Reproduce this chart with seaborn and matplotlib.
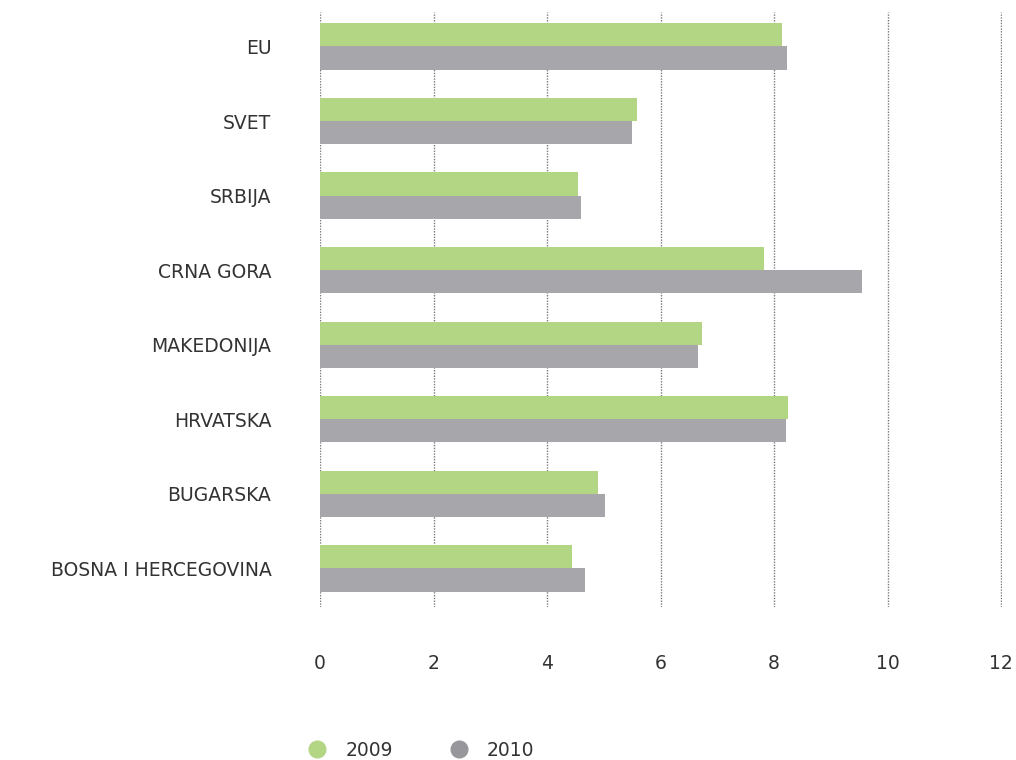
import pandas as pd
import matplotlib.pyplot as plt
import seaborn as sns
from matplotlib.lines import Line2D

# data
countries = ['EU', 'SVET', 'SRBIJA', 'CRNA GORA', 'MAKEDONIJA', 'HRVATSKA',
             'BUGARSKA', 'BOSNA I HERCEGOVINA']
values_2009 = [8.14, 5.59, 4.55, 7.82, 6.73, 8.25, 4.90, 4.44]
values_2010 = [8.23, 5.50, 4.60, 9.55, 6.66, 8.21, 5.02, 4.67]
years = ['2009', '2010']
colors = ['#b3d685', '#a7a7ab']

df = pd.DataFrame({
    'country': countries * 2,
    'value': values_2009 + values_2010,
    'year': [years[0]] * len(countries) + [years[1]] * len(countries),
})

sns.set_style('white')
plt.rcParams['font.family'] = ['DejaVu Sans']

fig = plt.figure(figsize=(10.16, 7.6), dpi=100)
ax = fig.add_axes([0.315, 0.201, 0.6715, 0.783])

sns.barplot(data=df, x='value', y='country', hue='year', orient='h',
            palette=colors, width=0.62, gap=0, saturation=1, linewidth=0,
            legend=False, ax=ax)

ax.set_xlim(0, 12.02)
ax.set_ylim(7.52, -0.46)
ax.set_xticks(range(0, 13, 2))
ax.set_axisbelow(True)
ax.grid(axis='x', linestyle=(0, (1, 1)), color='#7a7a7a', linewidth=1.0)
ax.grid(axis='y', visible=False)
for s in ax.spines.values():
    s.set_visible(False)
ax.set_xlabel('')
ax.set_ylabel('')
ax.tick_params(axis='x', length=0, pad=34, labelsize=13.5, labelcolor='#333333')
ax.tick_params(axis='y', length=0, pad=35, labelsize=13.5, labelcolor='#333333')

handles = [Line2D([], [], marker='o', linestyle='', markersize=12,
                  markerfacecolor=c, markeredgecolor=c) for c in ['#b3d685', '#98989c']]
fig.legend(handles, years, loc='center', bbox_to_anchor=(0.41, 0.013),
           ncol=2, frameon=False, fontsize=13.5, handletextpad=0.5,
           columnspacing=2.5, labelcolor='#333333')

fig.savefig('out.png', dpi=100)
